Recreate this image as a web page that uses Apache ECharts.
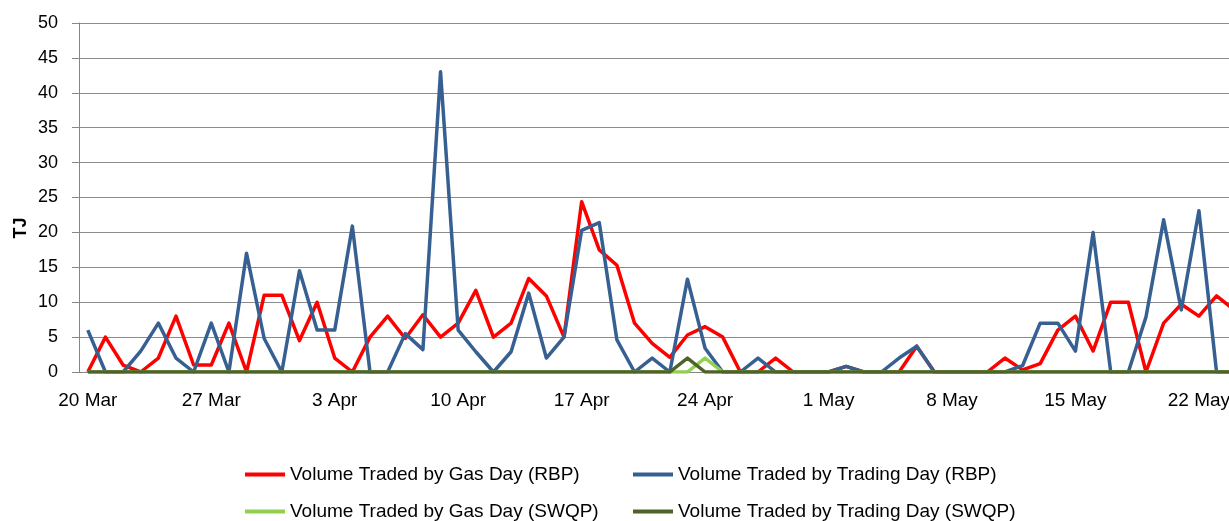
<!DOCTYPE html>
<html>
<head>
<meta charset="UTF-8">
<title>Volume Traded</title>
<script type="text/javascript" src="https://cdn.jsdelivr.net/npm/echarts@6/dist/echarts.min.js"></script>
<style>
  html, body { margin: 0; padding: 0; background: #fff; overflow: hidden; }
</style>
</head>
<body>
    <!-- a little wider than the window: the last day runs off the right edge like the original -->
    <div id="main" style="width: 1243px;height:521px;"></div>
    <script type="text/javascript">
    // days shown on the category axis (one point per day)
    var days = ['20 Mar','21 Mar','22 Mar','23 Mar','24 Mar','25 Mar','26 Mar','27 Mar','28 Mar','29 Mar','30 Mar','31 Mar',
        '1 Apr','2 Apr','3 Apr','4 Apr','5 Apr','6 Apr','7 Apr','8 Apr','9 Apr','10 Apr','11 Apr','12 Apr','13 Apr','14 Apr','15 Apr',
        '16 Apr','17 Apr','18 Apr','19 Apr','20 Apr','21 Apr','22 Apr','23 Apr','24 Apr','25 Apr','26 Apr','27 Apr','28 Apr','29 Apr','30 Apr',
        '1 May','2 May','3 May','4 May','5 May','6 May','7 May','8 May','9 May','10 May','11 May','12 May','13 May','14 May','15 May',
        '16 May','17 May','18 May','19 May','20 May','21 May','22 May','23 May','24 May'];

    var gasDayRBP = [0, 5, 1, 0, 2, 8, 1, 1, 7, 0, 11, 11,
        4.5, 10, 2, 0, 5, 8, 4.8, 8.2, 5, 7, 11.7, 5, 7, 13.4, 10.9,
        5, 24.4, 17.5, 15.3, 7, 4.1, 2.1, 5.3, 6.5, 5, 0, 0, 2, 0, 0,
        0, 0.8, 0, 0, 0, 3.7, 0, 0, 0, 0, 2, 0.3, 1.2, 6, 8,
        3, 10, 10, 0, 7, 9.7, 8, 10.9, 8.9];

    var tradingDayRBP = [6, 0, 0, 3, 7, 2, 0, 7, 0, 17, 4.8, 0,
        14.5, 6, 6, 20.9, 0, 0, 5.5, 3.2, 43, 6, 2.9, 0, 2.9, 11.3, 2,
        5, 20.3, 21.4, 4.6, 0, 2, 0, 13.3, 3.4, 0, 0, 2, 0, 0, 0,
        0, 0.8, 0, 0, 2, 3.7, 0, 0, 0, 0, 0, 0.9, 7, 7, 3,
        20, 0, 0, 7.9, 21.8, 8.9, 23.1, 0, 0];

    var gasDaySWQP = [0, 0, 0, 0, 0, 0, 0, 0, 0, 0, 0, 0,
        0, 0, 0, 0, 0, 0, 0, 0, 0, 0, 0, 0, 0, 0, 0,
        0, 0, 0, 0, 0, 0, 0, 0, 2, 0, 0, 0, 0, 0, 0,
        0, 0, 0, 0, 0, 0, 0, 0, 0, 0, 0, 0, 0, 0, 0,
        0, 0, 0, 0, 0, 0, 0, 0, 0];

    var tradingDaySWQP = [0, 0, 0, 0, 0, 0, 0, 0, 0, 0, 0, 0,
        0, 0, 0, 0, 0, 0, 0, 0, 0, 0, 0, 0, 0, 0, 0,
        0, 0, 0, 0, 0, 0, 0, 2, 0, 0, 0, 0, 0, 0, 0,
        0, 0, 0, 0, 0, 0, 0, 0, 0, 0, 0, 0, 0, 0, 0,
        0, 0, 0, 0, 0, 0, 0, 0, 0];

    var names = ['Volume Traded by Gas Day (RBP)', 'Volume Traded by Trading Day (RBP)',
        'Volume Traded by Gas Day (SWQP)', 'Volume Traded by Trading Day (SWQP)'];
    var colors = ['#ff0000', '#376092', '#92d050', '#4f6228'];
    var values = [gasDayRBP, tradingDayRBP, gasDaySWQP, tradingDaySWQP];

    var font = 'Liberation Sans, Arial, sans-serif';
    var myChart = echarts.init(document.getElementById('main'));

    // one legend per entry so the two columns line up like the original
    var legendPos = [[245, 465], [633, 465], [245, 502], [633, 502]];
    var legends = names.map(function (n, i) {
        return {
            data: [n],
            left: legendPos[i][0],
            top: legendPos[i][1],
            icon: 'rect',
            itemWidth: 40,
            itemHeight: 4,
            padding: 0,
            textStyle: { fontFamily: font, fontSize: 19, color: '#000' }
        };
    });

    var option = {
        animation: false,
        color: colors,
        legend: legends,
        grid: { left: 79, right: 0, top: 23, bottom: 149 },
        graphic: [{
            type: 'text',
            x: 21,
            y: 228,
            rotation: Math.PI / 2,
            style: {
                text: 'TJ',
                font: 'bold 18px ' + font,
                fill: '#000',
                align: 'center',
                verticalAlign: 'middle'
            }
        }],
        xAxis: {
            type: 'category',
            data: days,
            boundaryGap: true,
            axisLine: { lineStyle: { color: '#868686', width: 1 } },
            axisTick: { interval: 6, length: 6, lineStyle: { color: '#868686' } },
            axisLabel: { interval: 6, margin: 19, color: '#000', fontFamily: font, fontSize: 19 },
            splitLine: { show: false }
        },
        yAxis: {
            type: 'value',
            min: 0,
            max: 50,
            interval: 5,
            axisLine: { show: true, lineStyle: { color: '#868686', width: 1 } },
            axisTick: { show: true, length: 7, lineStyle: { color: '#868686' } },
            axisLabel: { margin: 21, color: '#000', fontFamily: font, fontSize: 18 },
            splitLine: { lineStyle: { color: '#8c8c8c', width: 1 } }
        },
        series: names.map(function (n, i) {
            return {
                name: n,
                type: 'line',
                data: values[i],
                symbol: 'none',
                lineStyle: { width: 3.5, color: colors[i], join: 'round' },
                itemStyle: { color: colors[i] }
            };
        })
    };

    myChart.setOption(option);
    </script>
</body>
</html>
